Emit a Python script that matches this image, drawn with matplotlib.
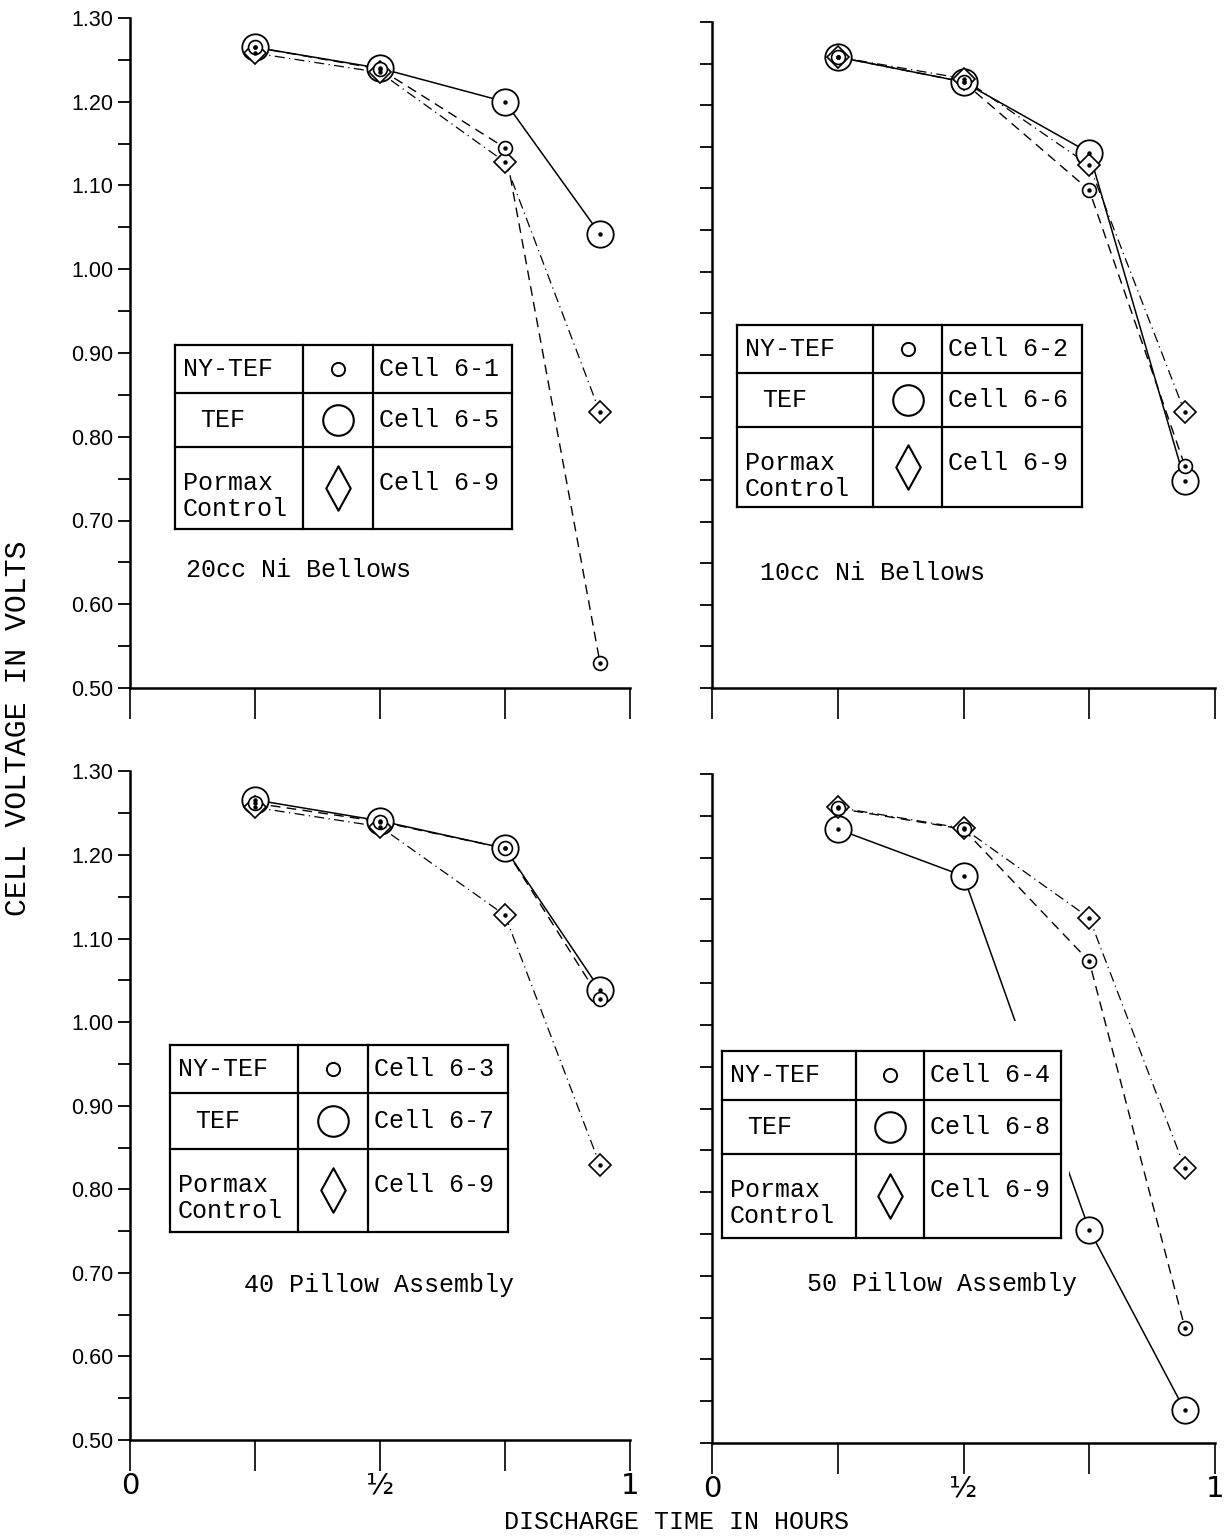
import matplotlib
matplotlib.use("Agg")
import matplotlib.pyplot as plt
from matplotlib.patches import Rectangle
from matplotlib.path import Path
from matplotlib.ticker import MultipleLocator, FixedLocator

# ---------------- data ----------------
hours = [0.25, 0.50, 0.75, 0.94]

# 20cc Ni Bellows
v20_nytef = [1.265, 1.239, 1.145, 0.530]
v20_tef = [1.265, 1.240, 1.200, 1.042]
v20_pormax = [1.258, 1.235, 1.128, 0.829]
# 10cc Ni Bellows
v10_nytef = [1.258, 1.228, 1.098, 0.767]
v10_tef = [1.258, 1.228, 1.143, 0.749]
v10_pormax = [1.258, 1.232, 1.128, 0.831]
# 40 Pillow Assembly
v40_nytef = [1.262, 1.240, 1.208, 1.028]
v40_tef = [1.266, 1.241, 1.208, 1.039]
v40_pormax = [1.257, 1.234, 1.128, 0.829]
# 50 Pillow Assembly
v50_nytef = [1.259, 1.234, 1.076, 0.638]
v50_tef = [1.234, 1.178, 0.755, 0.539]
v50_pormax = [1.260, 1.235, 1.128, 0.829]

panel_titles = ["20cc Ni Bellows", "10cc Ni Bellows",
                "40 Pillow Assembly", "50 Pillow Assembly"]
cell_labels = [["Cell 6-1", "Cell 6-5", "Cell 6-9"],
               ["Cell 6-2", "Cell 6-6", "Cell 6-9"],
               ["Cell 6-3", "Cell 6-7", "Cell 6-9"],
               ["Cell 6-4", "Cell 6-8", "Cell 6-9"]]
series_names = ["NY-TEF", "TEF", "Pormax", "Control"]
y_major = [0.50, 0.60, 0.70, 0.80, 0.90, 1.00, 1.10, 1.20, 1.30]
y_major_labels = ["0.50", "0.60", "0.70", "0.80", "0.90", "1.00", "1.10", "1.20", "1.30"]
x_ticks = [0.0, 0.25, 0.5, 0.75, 1.0]
x_tick_labels = ["0", "", "\u00bd", "", "1"]
x_label = "DISCHARGE TIME IN HOURS"
y_label = "CELL VOLTAGE IN VOLTS"

panel_data = [(v20_nytef, v20_tef, v20_pormax),
              (v10_nytef, v10_tef, v10_pormax),
              (v40_nytef, v40_tef, v40_pormax),
              (v50_nytef, v50_tef, v50_pormax)]

# ---------------- layout (pixels) ----------------
W, H = 1226, 1538
PANELS = [dict(x0=130, x1=630, ytop=18, ybot=688),
          dict(x0=712, x1=1215, ytop=22, ybot=688),
          dict(x0=130, x1=630, ytop=771.5, ybot=1440),
          dict(x0=712, x1=1215, ytop=774, ybot=1443)]
TABLES = [(175, 302.7, 373, 511.7, 345, 392.7, 446.7, 529),
          (736.7, 873.3, 941.7, 1081.7, 325, 373.3, 426.7, 506.7),
          (170, 298.3, 368.3, 508.3, 1045, 1093, 1149, 1231.7),
          (721.7, 856, 924, 1061, 1050.7, 1100, 1154, 1237.7)]
TITLE_POS = [(299, 570), (873, 573), (379, 1285), (942, 1284)]

MONO = "Liberation Mono"
SANS = "Liberation Sans"
FS = 18

diamond_path = Path([(0, 1), (0.55, 0), (0, -1), (-0.55, 0), (0, 1)],
                    [Path.MOVETO, Path.LINETO, Path.LINETO, Path.LINETO, Path.CLOSEPOLY])


def fa(p, px, py):
    return ((px - p["x0"]) / (p["x1"] - p["x0"]),
            (p["ybot"] - py) / (p["ybot"] - p["ytop"]))


fig = plt.figure(figsize=(W / 100, H / 100), dpi=100)

for i, p in enumerate(PANELS):
    ax = fig.add_axes([p["x0"] / W, 1 - p["ybot"] / H,
                       (p["x1"] - p["x0"]) / W, (p["ybot"] - p["ytop"]) / H])
    ax.set_xlim(0, 1)
    ax.set_ylim(0.50, 1.30)
    for s in ["top", "right"]:
        ax.spines[s].set_visible(False)
    for s in ["left", "bottom"]:
        ax.spines[s].set_linewidth(1.8)

    ny, tef, pm = panel_data[i]
    # lines
    ax.plot(hours, tef, color="black", lw=1.1, ls="-", zorder=2, clip_on=False)
    ax.plot(hours, ny, color="black", lw=1.0, ls=(0, (7, 4.5)), zorder=2, clip_on=False)
    ax.plot(hours, pm, color="black", lw=0.9, ls=(0, (8, 3.5, 1, 3.5)), zorder=2, clip_on=False)
    # markers (big circle, diamond, small circle), then centre dots
    ax.plot(hours, tef, ls="none", marker="o", ms=19, mfc="white", mec="black",
            mew=1.3, zorder=3, clip_on=False)
    ax.plot(hours, pm, ls="none", marker="D", ms=11, mfc="white", mec="black",
            mew=1.2, zorder=3.1, clip_on=False)
    ax.plot(hours, ny, ls="none", marker="o", ms=10, mfc="white", mec="black",
            mew=1.2, zorder=3.2, clip_on=False)
    for arr in (tef, pm, ny):
        ax.plot(hours, arr, ls="none", marker="o", ms=2.2, mfc="black", mec="black",
                zorder=3.5, clip_on=False)

    # ticks
    ax.xaxis.set_major_locator(FixedLocator(x_ticks))
    ax.yaxis.set_major_locator(FixedLocator(y_major))
    ax.yaxis.set_minor_locator(MultipleLocator(0.05))
    ax.tick_params(axis="x", direction="out", length=22, width=1.2, pad=1)
    ax.tick_params(axis="y", which="both", direction="out", length=9, width=1.3, pad=3)
    if i in (2, 3):
        ax.set_xticklabels(x_tick_labels, fontsize=21, family="DejaVu Sans")
    else:
        ax.set_xticklabels([])
    if i in (0, 2):
        ax.set_yticklabels(y_major_labels, fontsize=15.5, family=SANS)
    else:
        ax.set_yticklabels([])

    # table (legend block)
    L, c1, c2, R, T, r1, r2, B = TABLES[i]
    tr = ax.transAxes
    bl = fa(p, L, B)
    trc = fa(p, R + 8, T - 30)
    ax.add_patch(Rectangle(bl, trc[0] - bl[0], trc[1] - bl[1], transform=tr,
                           facecolor="white", edgecolor="none", zorder=5, clip_on=False))
    segs = [((L, T), (R, T)), ((L, B), (R, B)), ((L, T), (L, B)), ((R, T), (R, B)),
            ((c1, T), (c1, B)), ((c2, T), (c2, B)), ((L, r1), (R, r1)), ((L, r2), (R, r2))]
    for (ax1, ay1), (ax2, ay2) in segs:
        a = fa(p, ax1, ay1)
        b = fa(p, ax2, ay2)
        ax.plot([a[0], b[0]], [a[1], b[1]], transform=tr, color="black", lw=1.6,
                zorder=6, clip_on=False, solid_capstyle="projecting")
    row1 = (T + r1) / 2
    row2 = (r1 + r2) / 2
    txt_kw = dict(transform=tr, ha="left", va="center", fontsize=FS, family=MONO,
                  zorder=7, clip_on=False)
    ax.text(*fa(p, L + 8, row1), series_names[0], **txt_kw)
    ax.text(*fa(p, L + 25, row2), series_names[1], **txt_kw)
    ax.text(*fa(p, L + 8, r2 + 36), series_names[2], **txt_kw)
    ax.text(*fa(p, L + 8, r2 + 62), series_names[3], **txt_kw)
    ax.text(*fa(p, c2 + 6, row1), cell_labels[i][0], **txt_kw)
    ax.text(*fa(p, c2 + 6, row2), cell_labels[i][1], **txt_kw)
    ax.text(*fa(p, c2 + 6, r2 + 36), cell_labels[i][2], **txt_kw)
    mx = (c1 + c2) / 2
    m1 = fa(p, mx, row1)
    m2 = fa(p, mx, row2)
    m3 = fa(p, mx, (r2 + B) / 2)
    ax.plot([m1[0]], [m1[1]], transform=tr, marker="o", ms=9.5, mfc="white",
            mec="black", mew=1.4, zorder=7, clip_on=False)
    ax.plot([m2[0]], [m2[1]], transform=tr, marker="o", ms=22, mfc="white",
            mec="black", mew=1.5, zorder=7, clip_on=False)
    ax.plot([m3[0]], [m3[1]], transform=tr, marker=diamond_path, ms=32, mfc="white",
            mec="black", mew=1.5, zorder=7, clip_on=False)

    # panel caption
    tx, ty = TITLE_POS[i]
    ax.text(*fa(p, tx, ty), panel_titles[i], transform=tr, ha="center", va="center",
            fontsize=FS, family=MONO, zorder=7)

fig.text(18 / W, 1 - 728 / H, y_label, rotation=90, ha="center", va="center",
         fontsize=21.5, family=MONO)
fig.text(677 / W, 1 - 1522 / H, x_label, ha="center", va="center",
         fontsize=18, family=MONO)

fig.savefig("out.png", dpi=100, facecolor="white")
